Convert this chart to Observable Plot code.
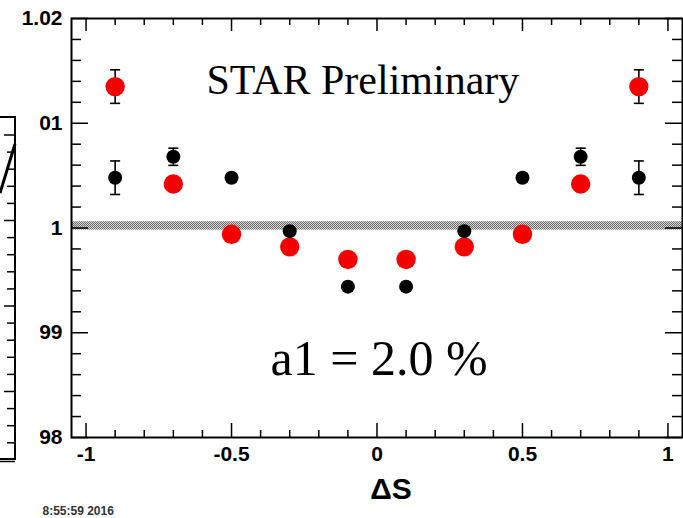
<!DOCTYPE html>
<html>
<head>
<meta charset="utf-8">
<script src="https://cdn.jsdelivr.net/npm/d3@7"></script>
<script src="https://cdn.jsdelivr.net/npm/@observablehq/plot@0.6"></script>
<style>
  body { margin: 0; background: #fff; }
  svg { display: block; }
</style>
</head>
<body>
<div id="chart"></div>
<script>
// ΔS bin centres
const deltaS = [-0.9, -0.7, -0.5, -0.3, -0.1, 0.1, 0.3, 0.5, 0.7, 0.9];
// red series (large markers) and its errors
const redValues = [1.0135, 1.0042, 0.9994, 0.9982, 0.9970, 0.9970, 0.9982, 0.9994, 1.0042, 1.0135];
const redErrors = [0.0016, 0.0007, 0.0006, 0.0006, 0.0006, 0.0006, 0.0006, 0.0006, 0.0007, 0.0016];
// black series (small markers) and its errors
const blackValues = [1.0048, 1.0068, 1.0048, 0.9997, 0.9944, 0.9944, 0.9997, 1.0048, 1.0068, 1.0048];
const blackErrors = [0.0016, 0.00082, 0.0004, 0.0004, 0.0004, 0.0004, 0.0004, 0.0004, 0.00082, 0.0016];
// shaded reference band around unity
const bandLow = [0.9998];
const bandHigh = [1.0006];
// axis ticks and labels
const xTicks = [-1, -0.5, 0, 0.5, 1];
const xTickLabels = ["-1", "-0.5", "0", "0.5", "1"];
const xMinorTicks = [-0.9, -0.8, -0.7, -0.6, -0.4, -0.3, -0.2, -0.1, 0.1, 0.2, 0.3, 0.4, 0.6, 0.7, 0.8, 0.9];
const yTicks = [0.98, 0.99, 1, 1.01, 1.02];
const yTickLabels = ["0.98", "0.99", "1", "1.01", "1.02"];
const yMinorTicks = [0.982, 0.984, 0.986, 0.988, 0.992, 0.994, 0.996, 0.998,
                     1.002, 1.004, 1.006, 1.008, 1.012, 1.014, 1.016, 1.018];

const red = deltaS.map((x, i) => ({x, y: redValues[i], e: redErrors[i]}));
const black = deltaS.map((x, i) => ({x, y: blackValues[i], e: blackErrors[i]}));
const bands = bandLow.map((lo, i) => ({lo, hi: bandHigh[i]}));

const W = 683, H = 518;
const mL = 71, mR = 1, mT = 18, mB = 81;
const fw = W - mL - mR, fh = H - mT - mB;

// horizontal cap used at the ends of error bars
const cap = {draw(context, size) {
  const r = Math.sqrt(size / Math.PI);
  context.moveTo(-r, 0);
  context.lineTo(r, 0);
}};

function errorBars(data) {
  return [
    Plot.ruleX(data, {x: "x", y1: d => d.y - d.e, y2: d => d.y + d.e, stroke: "black", strokeWidth: 1.6}),
    Plot.dot(data, {x: "x", y: d => d.y - d.e, r: 5, symbol: cap, stroke: "black", strokeWidth: 1.6, fill: "none"}),
    Plot.dot(data, {x: "x", y: d => d.y + d.e, r: 5, symbol: cap, stroke: "black", strokeWidth: 1.6, fill: "none"})
  ];
}

const plot = Plot.plot({
  width: W,
  height: H,
  marginLeft: mL, marginRight: mR, marginTop: mT, marginBottom: mB,
  style: {fontFamily: "'Liberation Sans', Arial, sans-serif", fontWeight: "bold", background: "white", color: "black", overflow: "visible"},
  x: {domain: [-1.05, 1.05], label: null},
  y: {domain: [0.98, 1.02], label: null},
  marks: [
    Plot.rect(bands, {y1: "lo", y2: "hi", fill: "url(#bandHatch)"}),
    // tick marks on all four sides, pointing into the frame
    Plot.tickX(xTicks, {x: d => d, insetTop: fh - 14, stroke: "black", strokeWidth: 1.5}),
    Plot.tickX(xMinorTicks, {x: d => d, insetTop: fh - 7, stroke: "black", strokeWidth: 1.5}),
    Plot.tickX(xTicks, {x: d => d, insetBottom: fh - 13, stroke: "black", strokeWidth: 1.5}),
    Plot.tickX(xMinorTicks, {x: d => d, insetBottom: fh - 7, stroke: "black", strokeWidth: 1.5}),
    Plot.tickY(yTicks, {y: d => d, insetRight: fw - 17, stroke: "black", strokeWidth: 1.5}),
    Plot.tickY(yMinorTicks, {y: d => d, insetRight: fw - 10, stroke: "black", strokeWidth: 1.5}),
    Plot.tickY(yTicks, {y: d => d, insetLeft: fw - 17, stroke: "black", strokeWidth: 1.5}),
    Plot.tickY(yMinorTicks, {y: d => d, insetLeft: fw - 10, stroke: "black", strokeWidth: 1.5}),
    Plot.axisX({ticks: xTicks, tickFormat: d => xTickLabels[xTicks.indexOf(d)], tickSize: 0, tickPadding: 9, fontSize: 21, label: null}),
    Plot.axisY({ticks: yTicks, tickFormat: d => yTickLabels[yTicks.indexOf(d)], tickSize: 0, tickPadding: 9, fontSize: 21, label: null}),
    ...errorBars(red),
    ...errorBars(black),
    Plot.dot(red, {x: "x", y: "y", r: 9.7, fill: "#f50000", stroke: "none"}),
    Plot.dot(black, {x: "x", y: "y", r: 7, fill: "black", stroke: "none"}),
    Plot.frame({stroke: "black", strokeWidth: 2}),
    Plot.text(["STAR Preliminary"], {frameAnchor: "top-left", dx: 135, dy: 46, textAnchor: "start", lineAnchor: "top",
      fontFamily: "'Liberation Serif', 'Times New Roman', serif", fontWeight: "normal", fontSize: 42, fill: "black"}),
    Plot.text(["a1 = 2.0 %"], {frameAnchor: "top-left", dx: 199, dy: 321, textAnchor: "start", lineAnchor: "top",
      fontFamily: "'Liberation Serif', 'Times New Roman', serif", fontWeight: "normal", fontSize: 50, fill: "black"}),
    Plot.text(["ΔS"], {frameAnchor: "bottom", dx: 14, dy: 40, lineAnchor: "top", fontSize: 30, fill: "black"}),
    Plot.text(["8:55:59 2016"], {frameAnchor: "bottom-left", dx: -29, dy: 68.5, textAnchor: "start", lineAnchor: "top", fontSize: 12, fill: "#333"})
  ]
});

// fine checker fill for the reference band
const svg = d3.select(plot);
const pat = svg.insert("defs", ":first-child").append("pattern")
  .attr("id", "bandHatch").attr("patternUnits", "userSpaceOnUse")
  .attr("width", 2).attr("height", 2);
pat.append("rect").attr("width", 2).attr("height", 2).attr("fill", "#d8d8d8");
pat.append("rect").attr("width", 1).attr("height", 1).attr("fill", "#6a6a6a");
pat.append("rect").attr("x", 1).attr("y", 1).attr("width", 1).attr("height", 1).attr("fill", "#6a6a6a");

// edge of the neighbouring pad on the left
const pad = svg.append("g");
pad.append("rect").attr("x", 0).attr("y", 95).attr("width", 40).attr("height", 380).attr("fill", "white");
pad.append("path").attr("d", "M0,117H15V459H0").attr("fill", "none").attr("stroke", "black").attr("stroke-width", 2);
pad.append("path").attr("d", "M0,461.5H15").attr("stroke", "black").attr("stroke-width", 1.5);
const padTicks = d3.range(135, 445, 17.1);
pad.selectAll("path.tk").data(padTicks).join("path").attr("class", "tk")
  .attr("d", (y, i) => `M${i % 5 === 0 ? 4 : 7},${y}H15`).attr("stroke", "black").attr("stroke-width", 1.5);
pad.append("path").attr("d", "M0,193L15,144").attr("stroke", "black").attr("stroke-width", 3);

document.getElementById("chart").appendChild(plot);
</script>
</body>
</html>
